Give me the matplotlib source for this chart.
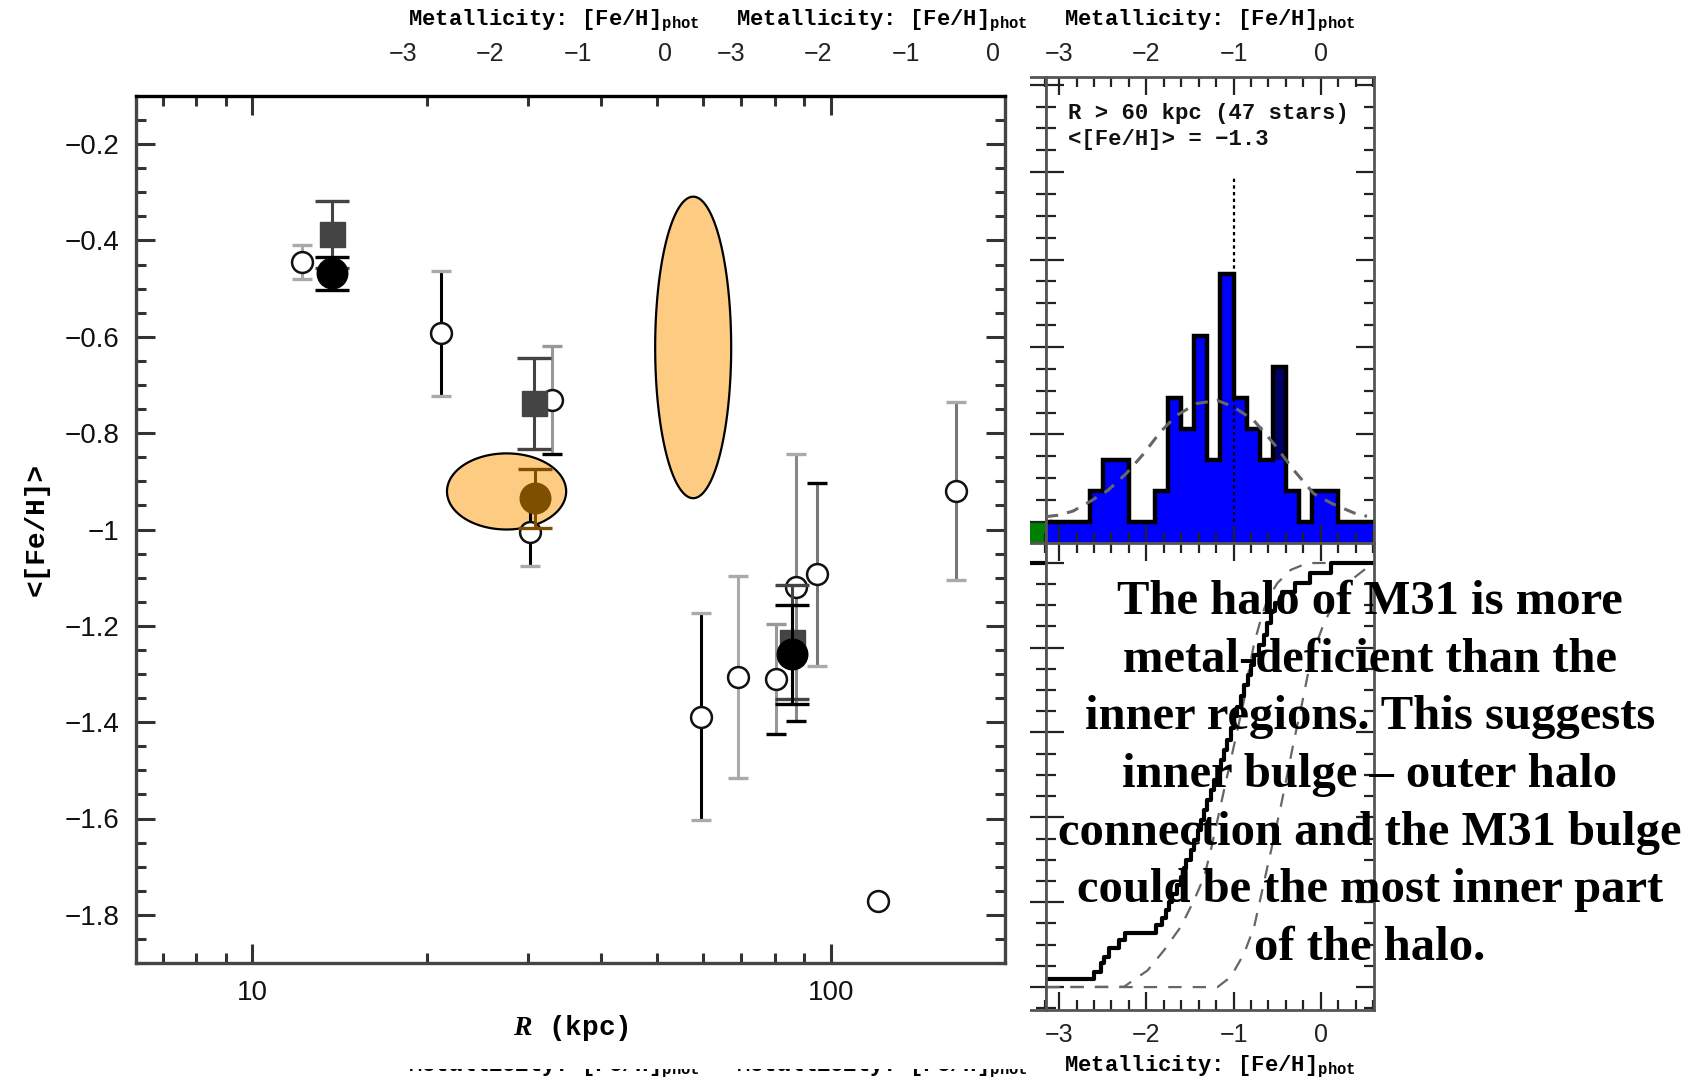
import numpy as np
import matplotlib
matplotlib.use("Agg")
import matplotlib.pyplot as plt
from matplotlib.patches import Rectangle
from matplotlib.ticker import FixedLocator, MultipleLocator, FuncFormatter, NullFormatter

plt.rcParams["mathtext.fontset"] = "custom"
plt.rcParams["mathtext.it"] = "Liberation Serif:bold:italic"
plt.rcParams["mathtext.bf"] = "Liberation Mono:bold"
plt.rcParams["mathtext.rm"] = "Liberation Mono:bold"

# ---------------- metallicity gradient: <[Fe/H]> vs R ----------------
R_OPEN   = [12.2, 21.2, 32.9, 30.2, 59.7, 69.2, 80.3, 87.0, 94.8, 164.4, 120.4]
FEH_OPEN = [-0.445, -0.593, -0.731, -1.005, -1.389, -1.306, -1.311, -1.120, -1.093, -0.920, -1.772]
ERR_OPEN = [0.035, 0.130, 0.112, 0.070, 0.215, 0.210, 0.114, 0.277, 0.190, 0.185, 0.0]

R_SQ   = [13.7, 30.7, 85.6]
FEH_SQ = [-0.387, -0.738, -1.233]
ERR_SQ = [0.070, 0.094, 0.118]

R_FILL   = [13.7, 85.6]
FEH_FILL = [-0.468, -1.259]
ERR_FILL = [0.034, 0.103]

R_BROWN   = [30.8]
FEH_BROWN = [-0.935]
ERR_BROWN = [0.061]

# highlighted regions (centre R, centre [Fe/H], half width in dex, half height)
ELL_R     = [27.5, 57.8]
ELL_FEH   = [-0.921, -0.622]
ELL_DLOGR = [0.103, 0.0657]
ELL_DFEH  = [0.079, 0.313]

# ---------------- R > 60 kpc metallicity distribution ----------------
N_STARS = 47
BIN_W = 0.15
HIST_EDGES = [-3.10, -2.95, -2.80, -2.65, -2.50, -2.35, -2.20, -2.05, -1.90, -1.75, -1.60,
              -1.45, -1.30, -1.15, -1.00, -0.85, -0.70, -0.55, -0.40, -0.25, -0.10,
              0.05, 0.20, 0.35, 0.50, 0.65]
HIST_COUNTS = [0, 0, 0, 1, 2, 2, 0, 0, 1, 4, 3, 6, 2, 8, 4, 3, 2, 5, 1, 0, 1, 1, 0, 0, 0]
HIST_SPEC   = [0, 0, 0, 0, 0, 0, 0, 0, 0, 0, 0, 0, 0, 0, 0, 0, 0, 3, 0, 0, 0, 0, 0, 0, 0]
MEAN_FEH = -1.0

FIT_X = [-3.15, -3.00, -2.84, -2.65, -2.44, -2.23, -2.03, -1.84, -1.65, -1.42, -1.19,
         -1.00, -0.77, -0.54, -0.31, -0.08, 0.13, 0.38, 0.53]
FIT_N = [0.17, 0.22, 0.35, 0.65, 1.02, 1.56, 2.20, 2.90, 3.44, 3.82, 3.92,
         3.71, 3.28, 2.53, 1.67, 0.91, 0.59, 0.29, 0.18]

CUM_X = [-3.15, -2.60, -2.52, -2.48, -2.43, -2.31, -2.25, -1.89, -1.815, -1.776, -1.738,
         -1.70, -1.643, -1.604, -1.567, -1.547, -1.49, -1.452, -1.413, -1.375, -1.337,
         -1.30, -1.26, -1.22, -1.184, -1.146, -1.108, -1.07, -1.032, -0.993, -0.955,
         -0.917, -0.879, -0.84, -0.802, -0.764, -0.707, -0.65, -0.612, -0.573, -0.53,
         -0.45, -0.29, -0.12, 0.12, 0.61]
CUM_Y = [0.018, 0.036, 0.056, 0.071, 0.091, 0.111, 0.127, 0.146, 0.162, 0.182, 0.201,
         0.220, 0.240, 0.260, 0.280, 0.300, 0.323, 0.347, 0.370, 0.394, 0.417,
         0.441, 0.465, 0.488, 0.512, 0.536, 0.559, 0.583, 0.610, 0.638, 0.661,
         0.685, 0.712, 0.736, 0.759, 0.783, 0.807, 0.830, 0.858, 0.885, 0.905,
         0.930, 0.953, 0.976, 1.0, 1.0]

MODEL1_X = [-3.15, -2.254, -2.178, -1.987, -1.796, -1.605, -1.452, -1.337, -1.26, -1.184,
            -1.108, -1.032, -0.955, -0.879, -0.822, -0.764, -0.688, -0.612, -0.497,
            -0.344, -0.153, 0.61]
MODEL1_Y = [0.0, 0.001, 0.012, 0.039, 0.087, 0.142, 0.205, 0.26, 0.323, 0.394,
            0.465, 0.535, 0.606, 0.677, 0.748, 0.81, 0.866, 0.913, 0.952,
            0.983, 0.999, 1.0]
MODEL2_X = [-3.15, -1.184, -1.032, -0.879, -0.764, -0.688, -0.612, -0.535, -0.459, -0.382,
            -0.306, -0.23, -0.153, -0.077, 0.038, 0.153, 0.306, 0.497, 0.61]
MODEL2_Y = [0.0, 0.0, 0.024, 0.079, 0.142, 0.212, 0.283, 0.354, 0.425, 0.503,
            0.582, 0.653, 0.732, 0.795, 0.858, 0.905, 0.952, 0.983, 0.991]

NOTE = ("The halo of M31 is more\nmetal-deficient than the\ninner regions. This suggests\n"
        "inner bulge \u2013 outer halo\nconnection and the M31 bulge\ncould be the most inner part\n"
        "of the halo.")

W, H = 1702, 1083
MONO = "Liberation Mono"
SANS = "Liberation Sans"


def fig_rect(x0, y0, x1, y1):
    """pixel box (top-left origin) -> figure fraction rect"""
    return [x0 / W, 1 - y1 / H, (x1 - x0) / W, (y1 - y0) / H]


def errbar(ax, x, y, e, bar, top, bot, cap, z):
    if e <= 0:
        return
    ax.errorbar([x], [y], yerr=[e], fmt="none", ecolor=bar, elinewidth=2.2, capsize=0, zorder=z)
    ax.plot([x], [y + e], marker="_", ms=cap, mew=2.4, color=top, zorder=z)
    ax.plot([x], [y - e], marker="_", ms=cap, mew=2.4, color=bot, zorder=z)


fig = plt.figure(figsize=(W / 100, H / 100), dpi=100)

# ---- three metallicity columns; the first two sit behind the gradient plot ----
PANEL_W = 328
col_left = [1046 - 2 * PANEL_W, 1046 - PANEL_W, 1046]
panels = []
for i, x0 in enumerate(col_left):
    z = 2 if i == 2 else 0
    up = fig.add_axes(fig_rect(x0, 77, x0 + PANEL_W, 542.7), zorder=z)
    lo = fig.add_axes(fig_rect(x0, 542.7, x0 + PANEL_W, 1010), zorder=z)
    for ax in (up, lo):
        ax.set_xlim(-3.15, 0.61)
        ax.xaxis.set_major_locator(MultipleLocator(1))
        ax.xaxis.set_minor_locator(MultipleLocator(0.2))
        ax.tick_params(which="both", direction="in", top=True, bottom=True, left=True, right=True,
                       colors="#222222", width=1.6, labelleft=False, labelsize=18)
        ax.tick_params(which="major", length=13)
        ax.tick_params(which="minor", length=7)
        for sp in ax.spines.values():
            sp.set_color("#555555")
            sp.set_linewidth(2)
    up.set_ylim(-0.095, 2.035)
    up.yaxis.set_major_locator(MultipleLocator(0.4))
    up.yaxis.set_minor_locator(MultipleLocator(0.1))
    up.tick_params(labelbottom=False, labeltop=True, pad=8)
    up.xaxis.set_label_position("top")
    up.set_xlabel(r"Metallicity: [Fe/H]$_{\mathbf{phot}}$", family=MONO, fontweight="bold",
                  fontsize=16, labelpad=12)
    lo.set_ylim(-0.054, 1.047)
    lo.yaxis.set_major_locator(MultipleLocator(0.2))
    lo.yaxis.set_minor_locator(MultipleLocator(0.05))
    # bottom tick numbers of the hidden columns are covered anyway
    lo.tick_params(labelbottom=(i == 2), labeltop=False, pad=9)
    lo.set_xlabel(r"Metallicity: [Fe/H]$_{\mathbf{phot}}$", family=MONO, fontweight="bold",
                  fontsize=16)
    lo.xaxis.set_label_coords(0.5, -0.12)
    lo.xaxis.label.set_va("center")
    for a in (up, lo):
        for lab in a.get_xticklabels():
            lab.set_family(SANS)
    panels.append((up, lo))

# second column: only its right edge shows
up2, lo2 = panels[1]
up2.axhspan(-0.095, 0, color="#008000", zorder=1)
lo2.axhline(1.0, color="k", lw=3)

# third column: R > 60 kpc
up3, lo3 = panels[2]
dens = np.array(HIST_COUNTS) / (N_STARS * BIN_W)
spec = np.array(HIST_SPEC) / (N_STARS * BIN_W)
up3.axhspan(-0.095, 0, color="#0000ff", zorder=1)
up3.stairs(dens, HIST_EDGES, baseline=-0.095, fill=True, color="#0000ff", zorder=1)
up3.stairs(dens, HIST_EDGES, baseline=dens - spec, fill=True, color="#000066", zorder=1.5)
up3.stairs(dens, HIST_EDGES, baseline=None, color="k", lw=3.2, zorder=2)
up3.plot([-3.15, HIST_EDGES[0]], [0, 0], color="k", lw=3.2, zorder=2)
fit_d = np.array(FIT_N) / (N_STARS * BIN_W)
up3.plot(FIT_X, fit_d, color="#666666", lw=2.2, ls=(0, (4, 3)), zorder=3)
up3.plot([MEAN_FEH, MEAN_FEH], [0, 11.1 / (N_STARS * BIN_W)], color="k", lw=1.6, ls=(0, (1.5, 1.5)), zorder=3)
up3.text(-2.90, 0.922, "R > 60 kpc (47 stars)", transform=up3.get_xaxis_transform(),
         family=MONO, fontweight="bold", fontsize=16, va="center", color="#111111")
up3.text(-2.90, 0.865, "<[Fe/H]> = \u22121.3", transform=up3.get_xaxis_transform(),
         family=MONO, fontweight="bold", fontsize=16, va="center", color="#111111")

lo3.plot(MODEL1_X, MODEL1_Y, color="#666666", lw=1.6, ls=(0, (6, 5)))
lo3.plot(MODEL2_X, MODEL2_Y, color="#666666", lw=1.6, ls=(0, (6, 5)))
lo3.step(CUM_X, CUM_Y, where="post", color="k", lw=3)

# white backing of the gradient plot hides the first two columns
fig.add_artist(Rectangle((0, 1 - 1069 / H), 1030 / W, (1069 - 62) / H, transform=fig.transFigure,
                         facecolor="white", edgecolor="none", zorder=1))

# ---------------- gradient plot ----------------
ax = fig.add_axes(fig_rect(136, 96, 1005, 963), zorder=3)
ax.set_facecolor("white")
ax.set_xscale("log")
ax.set_xlim(6.29, 200)
ax.set_ylim(-1.9, -0.1)

t = np.linspace(0, 2 * np.pi, 300)
for cr, cf, dl, df in zip(ELL_R, ELL_FEH, ELL_DLOGR, ELL_DFEH):
    ax.fill(10 ** (np.log10(cr) + dl * np.cos(t)), cf + df * np.sin(t),
            facecolor="#fdcc82", edgecolor="k", lw=1.6, zorder=1)

LG, MG, DG = "#aaaaaa", "#888888", "#777777"
open_style = [(LG, LG, LG), ("k", LG, LG), ("#999999", "#999999", "k"), ("k", "k", LG),
              ("k", LG, LG), (LG, LG, LG), ("#999999", "#999999", "k"), (MG, LG, "k"),
              (DG, "k", LG), (DG, LG, LG), (LG, LG, LG)]
for x, y, e, st in zip(R_OPEN, FEH_OPEN, ERR_OPEN, open_style):
    errbar(ax, x, y, e, *st, cap=15, z=2)
ax.plot(R_OPEN, FEH_OPEN, ls="none", marker="o", ms=15, mfc="white", mec="#111111", mew=1.8, zorder=3)

for x, y, e in zip(R_SQ, FEH_SQ, ERR_SQ):
    errbar(ax, x, y, e, "#444444", "#444444", "#444444", cap=24, z=4)
ax.plot(R_SQ, FEH_SQ, ls="none", marker="s", ms=18, color="#444444", zorder=4)

for x, y, e in zip(R_FILL, FEH_FILL, ERR_FILL):
    errbar(ax, x, y, e, "k", "k", "k", cap=25, z=5)
ax.plot(R_FILL, FEH_FILL, ls="none", marker="o", ms=22, color="k", zorder=5)

for x, y, e in zip(R_BROWN, FEH_BROWN, ERR_BROWN):
    errbar(ax, x, y, e, "#7f4f00", "#7f4f00", "#7f4f00", cap=25, z=6)
ax.plot(R_BROWN, FEH_BROWN, ls="none", marker="o", ms=22, color="#7f4f00", zorder=6)

ax.xaxis.set_major_locator(FixedLocator([10, 100]))
ax.xaxis.set_minor_locator(FixedLocator([7, 8, 9, 20, 30, 40, 50, 60, 70, 80, 90]))
ax.xaxis.set_major_formatter(FuncFormatter(lambda v, p: f"{v:g}"))
ax.xaxis.set_minor_formatter(NullFormatter())
ax.yaxis.set_major_locator(MultipleLocator(0.2))
ax.yaxis.set_minor_locator(MultipleLocator(0.05))
ax.yaxis.set_major_formatter(FuncFormatter(lambda v, p: f"{v:g}".replace("-", "\u2212")))
ax.tick_params(which="both", direction="in", top=True, right=True, colors="#333333",
               width=2.2, labelsize=20, labelcolor="#111111")
ax.tick_params(which="major", length=14, pad=12)
ax.tick_params(which="minor", length=7)
for lab in ax.get_xticklabels() + ax.get_yticklabels():
    lab.set_family(SANS)
for sp in ax.spines.values():
    sp.set_color("#444444")
    sp.set_linewidth(2.4)
ax.spines["top"].set_color("k")

ax.set_xlabel(r"$R$ (kpc)", family=MONO, fontweight="bold", fontsize=20, labelpad=5)
ax.set_ylabel("<[Fe/H]>", family=MONO, fontweight="bold", fontsize=20, labelpad=11)

fig.text(1370 / W, 1 - 775 / H, NOTE, ha="center", va="center", family="Liberation Serif",
         fontweight="bold", fontsize=35, linespacing=1.40, zorder=10)

fig.savefig("out.png", dpi=100, facecolor="white")
